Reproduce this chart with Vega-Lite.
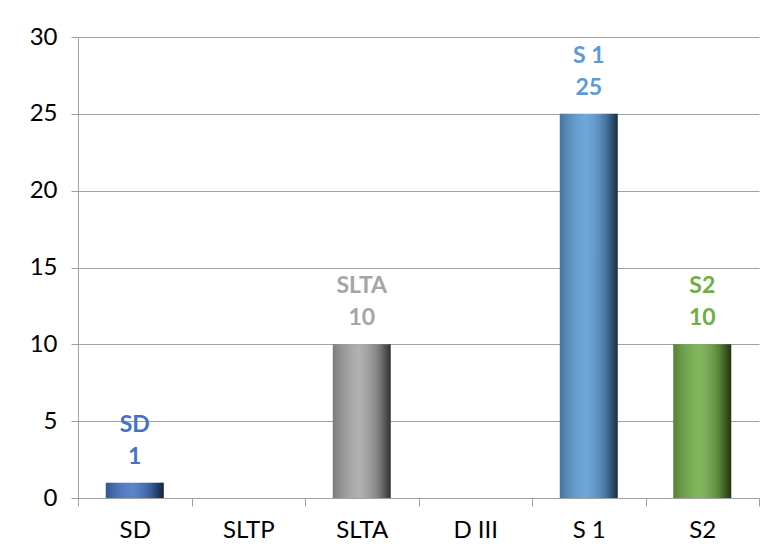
{
  "$schema": "https://vega.github.io/schema/vega-lite/v6.json",
  "width": 681,
  "height": 461,
  "padding": {"left": 0, "top": 25, "right": 17, "bottom": 0},
  "background": "white",
  "config": {
    "view": {"stroke": null},
    "font": "Lato",
    "axis": {"labelFont": "Lato", "labelFontSize": 24, "labelColor": "#000000"}
  },
  "data": {
    "values": [
      {"category": "SD", "value": 1},
      {"category": "SLTP", "value": 0},
      {"category": "SLTA", "value": 10},
      {"category": "D III", "value": 0},
      {"category": "S 1", "value": 25},
      {"category": "S2", "value": 10}
    ]
  },
  "encoding": {
    "x": {
      "field": "category",
      "type": "nominal",
      "sort": null,
      "scale": {"paddingInner": 0, "paddingOuter": 0},
      "axis": {
        "title": null,
        "labelAngle": 0,
        "tickBand": "extent",
        "tickSize": 8,
        "tickColor": "#a0a0a0",
        "domainColor": "#a0a0a0",
        "labelPadding": 12,
        "minExtent": 61,
        "maxExtent": 61
      }
    },
    "y": {
      "field": "value",
      "type": "quantitative",
      "scale": {"domain": [0, 30]},
      "axis": {
        "title": null,
        "values": [0, 5, 10, 15, 20, 25, 30],
        "tickSize": 7,
        "tickColor": "#a0a0a0",
        "domainColor": "#a0a0a0",
        "gridColor": "#a0a0a0",
        "grid": true,
        "labelPadding": 14,
        "minExtent": 78,
        "maxExtent": 78
      }
    }
  },
  "layer": [
    {
      "mark": {"type": "bar", "width": {"band": 0.51}},
      "encoding": {
        "color": {
          "field": "category",
          "type": "nominal",
          "scale": {
            "domain": ["SD", "SLTP", "SLTA", "D III", "S 1", "S2"],
            "range": ["#4472C4", "#888888", "#A5A5A5", "#888888", "#5B9BD5", "#70AD47"]
          },
          "legend": null
        }
      }
    },
    {
      "mark": {
        "type": "bar",
        "width": {"band": 0.51},
        "color": {
          "gradient": "linear",
          "x1": 0, "x2": 1, "y1": 0, "y2": 0,
          "stops": [
            {"offset": 0, "color": "rgba(0,0,0,0.25)"},
            {"offset": 0.45, "color": "rgba(255,255,255,0.12)"},
            {"offset": 0.8, "color": "rgba(0,0,0,0.25)"},
            {"offset": 1, "color": "rgba(0,0,0,0.7)"}
          ]
        }
      }
    },
    {
      "transform": [{"filter": "datum.value > 0"}],
      "mark": {"type": "text", "dy": -26, "fontWeight": "bold", "fontSize": 23, "font": "Lato", "baseline": "middle"},
      "encoding": {
        "text": {"field": "value", "type": "quantitative"},
        "color": {"field": "category", "type": "nominal", "legend": null}
      }
    },
    {
      "transform": [{"filter": "datum.value > 0"}],
      "mark": {"type": "text", "dy": -58, "fontWeight": "bold", "fontSize": 23, "font": "Lato", "baseline": "middle"},
      "encoding": {
        "text": {"field": "category", "type": "nominal"},
        "color": {"field": "category", "type": "nominal", "legend": null}
      }
    }
  ]
}
